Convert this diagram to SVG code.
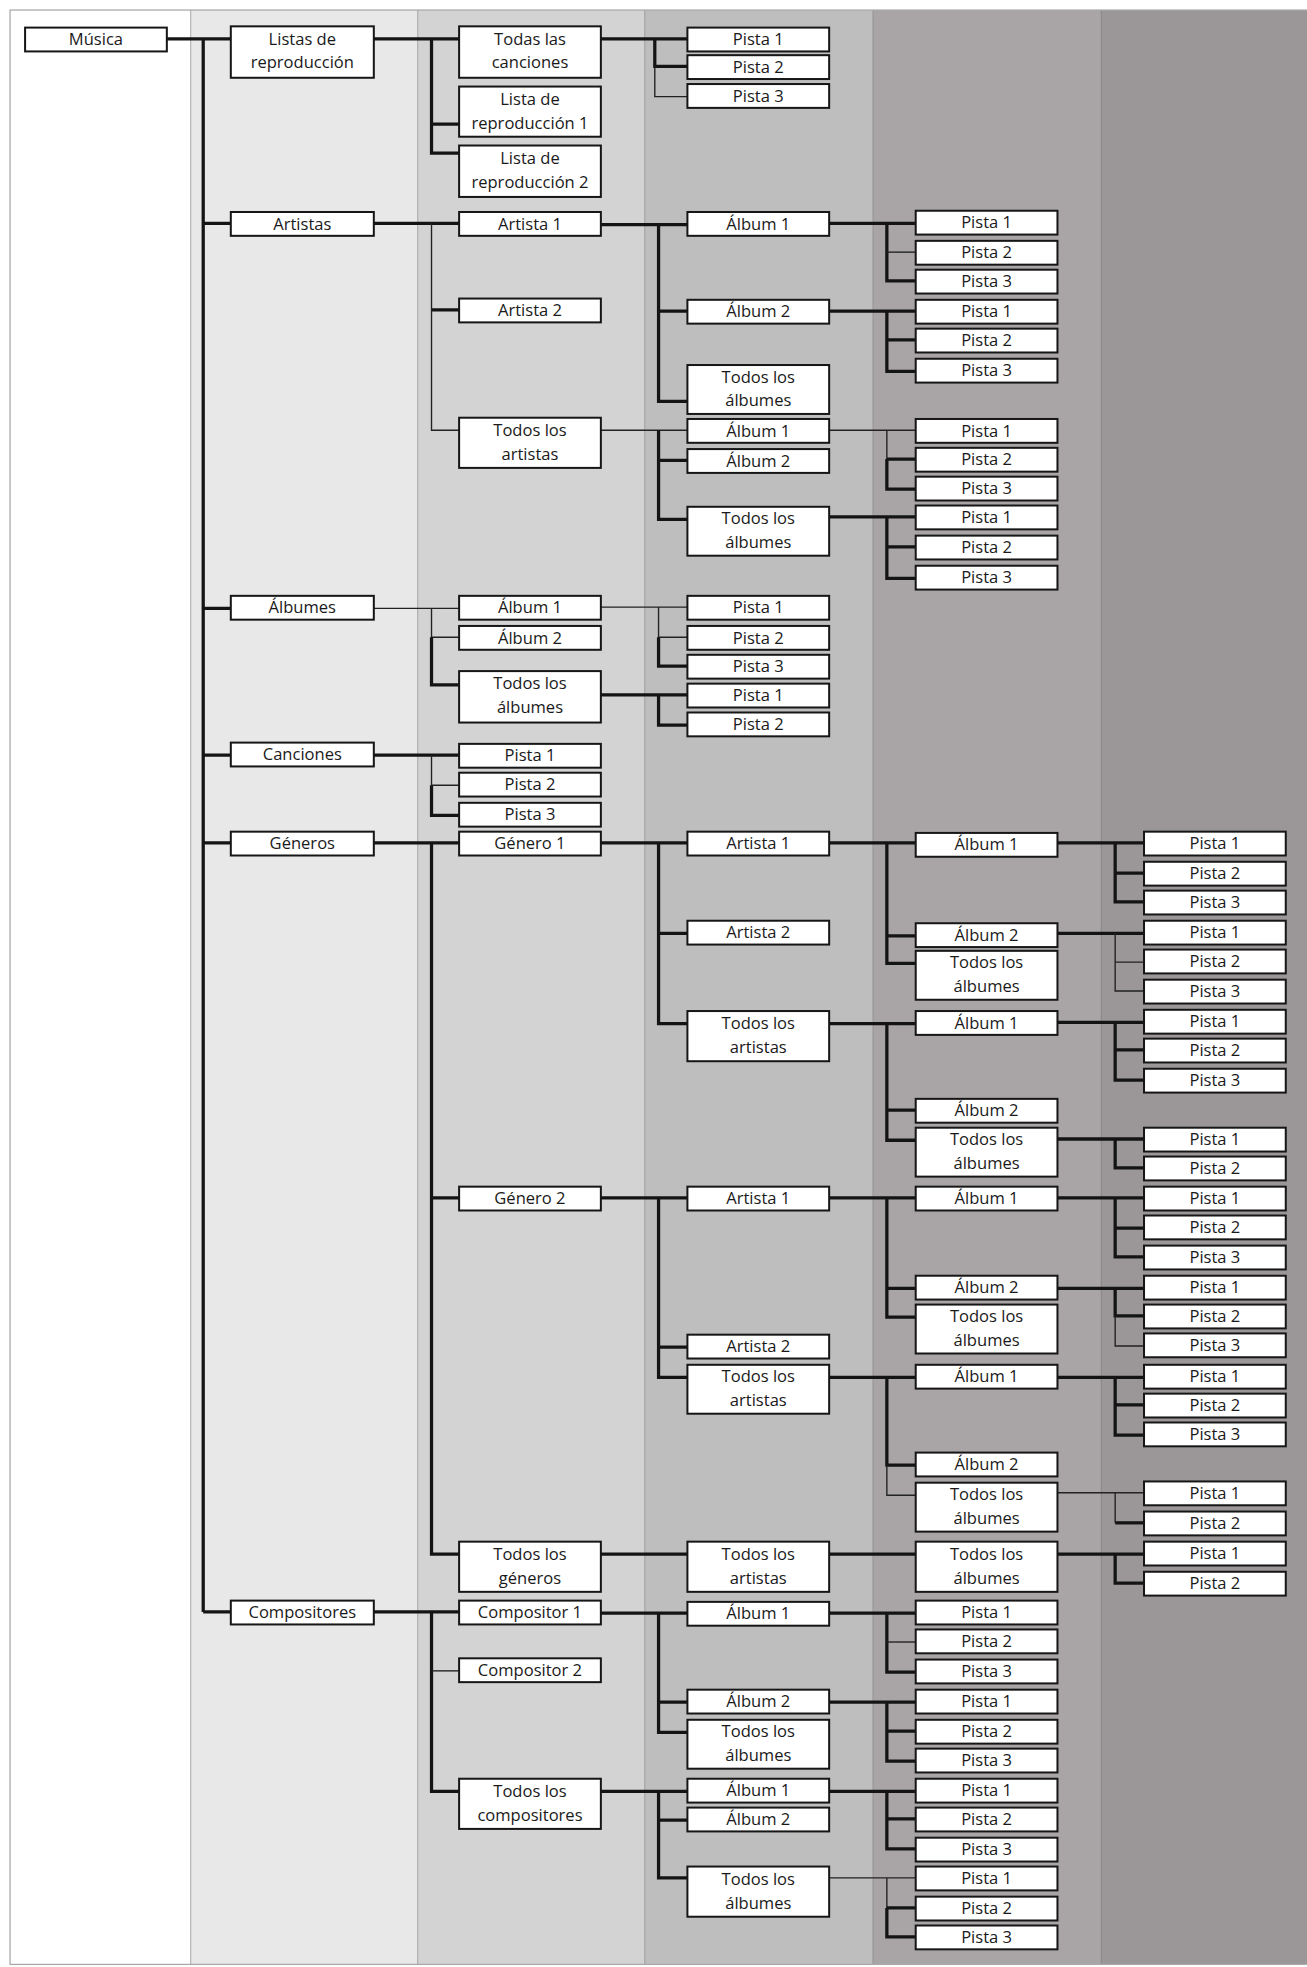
<svg xmlns="http://www.w3.org/2000/svg" width="1307" height="1967" viewBox="0 0 1307 1967">
<style>
.b{fill:#fff;stroke:#161616;stroke-width:1.6}
text{font-family:"Open Sans","DejaVu Sans",sans-serif;font-size:13.2px;text-anchor:middle;fill:#1a1a1a}
.k{stroke:#141414;stroke-width:2.6;fill:none}
.n{stroke:#222;stroke-width:1.1;fill:none}
.sep{stroke-width:1;fill:none}
</style>
<rect x="0" y="0" width="1307" height="1967" fill="#fff"/>
<g transform="scale(1.2544)">
<g id="columns">
<rect x="8" y="8" width="144" height="1558" fill="#ffffff"/>
<rect x="152" y="8" width="181" height="1558" fill="#e8e8e8"/>
<rect x="333" y="8" width="181" height="1558" fill="#d3d3d3"/>
<rect x="514" y="8" width="182" height="1558" fill="#bebebe"/>
<rect x="696" y="8" width="182" height="1558" fill="#a9a5a6"/>
<rect x="878" y="8" width="164" height="1558" fill="#9b9798"/>
<path class="sep" stroke="#b8b8b8" d="M152,8V1566"/>
<path class="sep" stroke="#b0b0b0" d="M333,8V1566"/>
<path class="sep" stroke="#a5a5a5" d="M514,8V1566"/>
<path class="sep" stroke="#979797" d="M696,8V1566"/>
<path class="sep" stroke="#8c8a8a" d="M878,8V1566"/>
<rect x="8" y="8" width="1040" height="1558" fill="none" stroke="#a8a8a8" stroke-width="1"/>
</g>
<g id="connectors">
<path class="k" d="M133,31H184M162,31V1285M162,178H184M162,485H184M162,602H184M162,672H184M162,1285H184"/>
<path class="k" d="M298,31H366M344,31V122H366M344,99H366"/>
<path class="k" d="M298,178H366M344,247H366"/>
<path class="n" d="M344,178V343H366"/>
<path class="n" d="M298,485H366M344,485V508H366"/>
<path class="k" d="M344,508V546H366"/>
<path class="k" d="M298,602H366M344,626V650H366"/>
<path class="n" d="M344,602V626H366"/>
<path class="k" d="M298,672H366M344,672V1239H366M344,955H366"/>
<path class="k" d="M298,1285H366M344,1285V1428H366"/>
<path class="n" d="M344,1332H366"/>
<path class="k" d="M479,31H548M522,31V53H548"/>
<path class="n" d="M522,53V77H548"/>
<path class="k" d="M479,179H548M525,179V320H548M525,248H548"/>
<path class="n" d="M479,343H548"/>
<path class="k" d="M525,343V414H548M525,367H548"/>
<path class="n" d="M479,484H548M525,484V508H548"/>
<path class="k" d="M525,508V531H548"/>
<path class="k" d="M479,554H548M525,554V578H548"/>
<path class="k" d="M479,672H548M525,672V816H548M525,744H548"/>
<path class="k" d="M479,955H548M525,955V1098H548M525,1074H548"/>
<path class="k" d="M479,1239H548"/>
<path class="k" d="M479,1286H548M525,1286V1381H548M525,1357H548"/>
<path class="k" d="M479,1428H548M525,1428V1497H548M525,1451H548"/>
<path class="k" d="M661,178H730M707,178V224H730"/>
<path class="n" d="M707,201H730"/>
<path class="k" d="M661,248H730M707,248V296H730M707,271H730"/>
<path class="n" d="M661,343H730M707,343V366"/>
<path class="k" d="M707,366V390H730M707,366H730"/>
<path class="k" d="M661,412H730M707,412V461H730M707,436H730"/>
<path class="k" d="M661,672H730M707,672V768H730M707,746H730"/>
<path class="k" d="M661,816H730M707,816V909H730M707,885H730"/>
<path class="k" d="M661,955H730M707,955V1050H730M707,1027H730"/>
<path class="k" d="M661,1098H730M707,1098V1168H730"/>
<path class="n" d="M707,1168V1192H730"/>
<path class="k" d="M661,1239H730"/>
<path class="k" d="M661,1286H730M707,1286V1333H730"/>
<path class="n" d="M707,1309H730"/>
<path class="k" d="M661,1357H730M707,1357V1404H730M707,1380H730"/>
<path class="k" d="M661,1428H730M707,1428V1474H730M707,1450H730"/>
<path class="n" d="M661,1497H730M707,1497V1521"/>
<path class="k" d="M707,1521V1544H730M707,1521H730"/>
<path class="k" d="M843,672H912M889,672V719H912M889,696H912"/>
<path class="k" d="M843,744H912"/>
<path class="n" d="M889,744V790H912M889,767H912"/>
<path class="k" d="M843,815H912M889,815V861H912M889,837H912"/>
<path class="k" d="M843,908H912M889,908V931H912"/>
<path class="k" d="M843,955H912M889,955V1002H912M889,979H912"/>
<path class="k" d="M843,1027H912M889,1027V1049H912"/>
<path class="n" d="M889,1049V1073H912"/>
<path class="k" d="M843,1098H912M889,1098V1144H912M889,1120H912"/>
<path class="n" d="M843,1190H912M889,1190V1214"/>
<path class="k" d="M889,1214H912"/>
<path class="k" d="M843,1239H912M889,1239V1262H912"/>
</g>

<g id="musica"><rect class="b" x="20" y="22" width="113" height="19"/><text x="76.5" y="36">Música</text></g>

<g id="listas"><rect class="b" x="184" y="21" width="114" height="41"/><text x="241" y="35.5">Listas de</text><text x="241" y="54.5">reproducción</text></g>
<g id="artistas"><rect class="b" x="184" y="169" width="114" height="19"/><text x="241" y="183">Artistas</text></g>
<g id="albumes"><rect class="b" x="184" y="475" width="114" height="19"/><text x="241" y="489">Álbumes</text></g>
<g id="canciones"><rect class="b" x="184" y="592" width="114" height="19"/><text x="241" y="606">Canciones</text></g>
<g id="generos"><rect class="b" x="184" y="663" width="114" height="19"/><text x="241" y="677">Géneros</text></g>
<g id="compositores"><rect class="b" x="184" y="1276" width="114" height="19"/><text x="241" y="1290">Compositores</text></g>

<g id="c-todas-canciones"><rect class="b" x="366" y="21" width="113" height="41"/><text x="422.5" y="35.5">Todas las</text><text x="422.5" y="54.5">canciones</text></g>
<g id="c-lista1"><rect class="b" x="366" y="69" width="113" height="40"/><text x="422.5" y="83.5">Lista de</text><text x="422.5" y="102.5">reproducción 1</text></g>
<g id="c-lista2"><rect class="b" x="366" y="116" width="113" height="41"/><text x="422.5" y="130.5">Lista de</text><text x="422.5" y="149.5">reproducción 2</text></g>
<g id="c-artista1"><rect class="b" x="366" y="169" width="113" height="19"/><text x="422.5" y="183">Artista 1</text></g>
<g id="c-artista2"><rect class="b" x="366" y="238" width="113" height="19"/><text x="422.5" y="252">Artista 2</text></g>
<g id="c-todos-artistas"><rect class="b" x="366" y="333" width="113" height="40"/><text x="422.5" y="347.5">Todos los</text><text x="422.5" y="366.5">artistas</text></g>
<g id="c-album1"><rect class="b" x="366" y="475" width="113" height="19"/><text x="422.5" y="489">Álbum 1</text></g>
<g id="c-album2"><rect class="b" x="366" y="499" width="113" height="19"/><text x="422.5" y="513">Álbum 2</text></g>
<g id="c-todos-albumes"><rect class="b" x="366" y="535" width="113" height="41"/><text x="422.5" y="549.5">Todos los</text><text x="422.5" y="568.5">álbumes</text></g>
<g id="c-pista1"><rect class="b" x="366" y="593" width="113" height="19"/><text x="422.5" y="607">Pista 1</text></g>
<g id="c-pista2"><rect class="b" x="366" y="616" width="113" height="19"/><text x="422.5" y="630">Pista 2</text></g>
<g id="c-pista3"><rect class="b" x="366" y="640" width="113" height="19"/><text x="422.5" y="654">Pista 3</text></g>
<g id="c-genero1"><rect class="b" x="366" y="663" width="113" height="19"/><text x="422.5" y="677">Género 1</text></g>
<g id="c-genero2"><rect class="b" x="366" y="946" width="113" height="19"/><text x="422.5" y="960">Género 2</text></g>
<g id="c-todos-generos"><rect class="b" x="366" y="1229" width="113" height="40"/><text x="422.5" y="1243.5">Todos los</text><text x="422.5" y="1262.5">géneros</text></g>
<g id="c-compositor1"><rect class="b" x="366" y="1276" width="113" height="19"/><text x="422.5" y="1290">Compositor 1</text></g>
<g id="c-compositor2"><rect class="b" x="366" y="1322" width="113" height="19"/><text x="422.5" y="1336">Compositor 2</text></g>
<g id="c-todos-compositores"><rect class="b" x="366" y="1418" width="113" height="40"/><text x="422.5" y="1432.5">Todos los</text><text x="422.5" y="1451.5">compositores</text></g>

<g id="d-pista1a"><rect class="b" x="548" y="22" width="113" height="19"/><text x="604.5" y="36">Pista 1</text></g>
<g id="d-pista2a"><rect class="b" x="548" y="44" width="113" height="19"/><text x="604.5" y="58">Pista 2</text></g>
<g id="d-pista3a"><rect class="b" x="548" y="67" width="113" height="19"/><text x="604.5" y="81">Pista 3</text></g>
<g id="d-album1a"><rect class="b" x="548" y="169" width="113" height="19"/><text x="604.5" y="183">Álbum 1</text></g>
<g id="d-album2a"><rect class="b" x="548" y="239" width="113" height="19"/><text x="604.5" y="253">Álbum 2</text></g>
<g id="d-todosalb-a"><rect class="b" x="548" y="291" width="113" height="39"/><text x="604.5" y="305">Todos los</text><text x="604.5" y="324">álbumes</text></g>
<g id="d-album1b"><rect class="b" x="548" y="334" width="113" height="19"/><text x="604.5" y="348">Álbum 1</text></g>
<g id="d-album2b"><rect class="b" x="548" y="358" width="113" height="19"/><text x="604.5" y="372">Álbum 2</text></g>
<g id="d-todosalb-b"><rect class="b" x="548" y="404" width="113" height="39"/><text x="604.5" y="418">Todos los</text><text x="604.5" y="437">álbumes</text></g>
<g id="d-pista1b"><rect class="b" x="548" y="475" width="113" height="19"/><text x="604.5" y="489">Pista 1</text></g>
<g id="d-pista2b"><rect class="b" x="548" y="499" width="113" height="19"/><text x="604.5" y="513">Pista 2</text></g>
<g id="d-pista3b"><rect class="b" x="548" y="522" width="113" height="19"/><text x="604.5" y="536">Pista 3</text></g>
<g id="d-pista1c"><rect class="b" x="548" y="545" width="113" height="19"/><text x="604.5" y="559">Pista 1</text></g>
<g id="d-pista2c"><rect class="b" x="548" y="568" width="113" height="19"/><text x="604.5" y="582">Pista 2</text></g>
<g id="d-artista1a"><rect class="b" x="548" y="663" width="113" height="19"/><text x="604.5" y="677">Artista 1</text></g>
<g id="d-artista2a"><rect class="b" x="548" y="734" width="113" height="19"/><text x="604.5" y="748">Artista 2</text></g>
<g id="d-todosart-a"><rect class="b" x="548" y="806" width="113" height="40"/><text x="604.5" y="820.5">Todos los</text><text x="604.5" y="839.5">artistas</text></g>
<g id="d-artista1b"><rect class="b" x="548" y="946" width="113" height="19"/><text x="604.5" y="960">Artista 1</text></g>
<g id="d-artista2b"><rect class="b" x="548" y="1064" width="113" height="19"/><text x="604.5" y="1078">Artista 2</text></g>
<g id="d-todosart-b"><rect class="b" x="548" y="1088" width="113" height="39"/><text x="604.5" y="1102">Todos los</text><text x="604.5" y="1121">artistas</text></g>
<g id="d-todosart-c"><rect class="b" x="548" y="1229" width="113" height="40"/><text x="604.5" y="1243.5">Todos los</text><text x="604.5" y="1262.5">artistas</text></g>
<g id="d-album1c"><rect class="b" x="548" y="1277" width="113" height="19"/><text x="604.5" y="1291">Álbum 1</text></g>
<g id="d-album2c"><rect class="b" x="548" y="1347" width="113" height="19"/><text x="604.5" y="1361">Álbum 2</text></g>
<g id="d-todosalb-c"><rect class="b" x="548" y="1371" width="113" height="39"/><text x="604.5" y="1385">Todos los</text><text x="604.5" y="1404">álbumes</text></g>
<g id="d-album1d"><rect class="b" x="548" y="1418" width="113" height="19"/><text x="604.5" y="1432">Álbum 1</text></g>
<g id="d-album2d"><rect class="b" x="548" y="1441" width="113" height="19"/><text x="604.5" y="1455">Álbum 2</text></g>
<g id="d-todosalb-d"><rect class="b" x="548" y="1488" width="113" height="40"/><text x="604.5" y="1502.5">Todos los</text><text x="604.5" y="1521.5">álbumes</text></g>

<g id="e-p01"><rect class="b" x="730" y="168" width="113" height="19"/><text x="786.5" y="182">Pista 1</text></g>
<g id="e-p02"><rect class="b" x="730" y="192" width="113" height="19"/><text x="786.5" y="206">Pista 2</text></g>
<g id="e-p03"><rect class="b" x="730" y="215" width="113" height="19"/><text x="786.5" y="229">Pista 3</text></g>
<g id="e-p04"><rect class="b" x="730" y="239" width="113" height="19"/><text x="786.5" y="253">Pista 1</text></g>
<g id="e-p05"><rect class="b" x="730" y="262" width="113" height="19"/><text x="786.5" y="276">Pista 2</text></g>
<g id="e-p06"><rect class="b" x="730" y="286" width="113" height="19"/><text x="786.5" y="300">Pista 3</text></g>
<g id="e-p07"><rect class="b" x="730" y="334" width="113" height="19"/><text x="786.5" y="348">Pista 1</text></g>
<g id="e-p08"><rect class="b" x="730" y="357" width="113" height="19"/><text x="786.5" y="371">Pista 2</text></g>
<g id="e-p09"><rect class="b" x="730" y="380" width="113" height="19"/><text x="786.5" y="394">Pista 3</text></g>
<g id="e-p10"><rect class="b" x="730" y="403" width="113" height="19"/><text x="786.5" y="417">Pista 1</text></g>
<g id="e-p11"><rect class="b" x="730" y="427" width="113" height="19"/><text x="786.5" y="441">Pista 2</text></g>
<g id="e-p12"><rect class="b" x="730" y="451" width="113" height="19"/><text x="786.5" y="465">Pista 3</text></g>
<g id="e-album1a"><rect class="b" x="730" y="664" width="113" height="19"/><text x="786.5" y="678">Álbum 1</text></g>
<g id="e-album2a"><rect class="b" x="730" y="736" width="113" height="19"/><text x="786.5" y="750">Álbum 2</text></g>
<g id="e-todosalb-a"><rect class="b" x="730" y="758" width="113" height="39"/><text x="786.5" y="772">Todos los</text><text x="786.5" y="791">álbumes</text></g>
<g id="e-album1b"><rect class="b" x="730" y="806" width="113" height="19"/><text x="786.5" y="820">Álbum 1</text></g>
<g id="e-album2b"><rect class="b" x="730" y="876" width="113" height="19"/><text x="786.5" y="890">Álbum 2</text></g>
<g id="e-todosalb-b"><rect class="b" x="730" y="899" width="113" height="39"/><text x="786.5" y="913">Todos los</text><text x="786.5" y="932">álbumes</text></g>
<g id="e-album1c"><rect class="b" x="730" y="946" width="113" height="19"/><text x="786.5" y="960">Álbum 1</text></g>
<g id="e-album2c"><rect class="b" x="730" y="1017" width="113" height="19"/><text x="786.5" y="1031">Álbum 2</text></g>
<g id="e-todosalb-c"><rect class="b" x="730" y="1040" width="113" height="39"/><text x="786.5" y="1054">Todos los</text><text x="786.5" y="1073">álbumes</text></g>
<g id="e-album1d"><rect class="b" x="730" y="1088" width="113" height="19"/><text x="786.5" y="1102">Álbum 1</text></g>
<g id="e-album2d"><rect class="b" x="730" y="1158" width="113" height="19"/><text x="786.5" y="1172">Álbum 2</text></g>
<g id="e-todosalb-d"><rect class="b" x="730" y="1182" width="113" height="39"/><text x="786.5" y="1196">Todos los</text><text x="786.5" y="1215">álbumes</text></g>
<g id="e-todosalb-e"><rect class="b" x="730" y="1229" width="113" height="40"/><text x="786.5" y="1243.5">Todos los</text><text x="786.5" y="1262.5">álbumes</text></g>
<g id="e-p13"><rect class="b" x="730" y="1276" width="113" height="19"/><text x="786.5" y="1290">Pista 1</text></g>
<g id="e-p14"><rect class="b" x="730" y="1299" width="113" height="19"/><text x="786.5" y="1313">Pista 2</text></g>
<g id="e-p15"><rect class="b" x="730" y="1323" width="113" height="19"/><text x="786.5" y="1337">Pista 3</text></g>
<g id="e-p16"><rect class="b" x="730" y="1347" width="113" height="19"/><text x="786.5" y="1361">Pista 1</text></g>
<g id="e-p17"><rect class="b" x="730" y="1371" width="113" height="19"/><text x="786.5" y="1385">Pista 2</text></g>
<g id="e-p18"><rect class="b" x="730" y="1394" width="113" height="19"/><text x="786.5" y="1408">Pista 3</text></g>
<g id="e-p19"><rect class="b" x="730" y="1418" width="113" height="19"/><text x="786.5" y="1432">Pista 1</text></g>
<g id="e-p20"><rect class="b" x="730" y="1441" width="113" height="19"/><text x="786.5" y="1455">Pista 2</text></g>
<g id="e-p21"><rect class="b" x="730" y="1465" width="113" height="19"/><text x="786.5" y="1479">Pista 3</text></g>
<g id="e-p22"><rect class="b" x="730" y="1488" width="113" height="19"/><text x="786.5" y="1502">Pista 1</text></g>
<g id="e-p23"><rect class="b" x="730" y="1512" width="113" height="19"/><text x="786.5" y="1526">Pista 2</text></g>
<g id="e-p24"><rect class="b" x="730" y="1535" width="113" height="19"/><text x="786.5" y="1549">Pista 3</text></g>

<g id="f-p01"><rect class="b" x="912" y="663" width="113" height="19"/><text x="968.5" y="677">Pista 1</text></g>
<g id="f-p02"><rect class="b" x="912" y="687" width="113" height="19"/><text x="968.5" y="701">Pista 2</text></g>
<g id="f-p03"><rect class="b" x="912" y="710" width="113" height="19"/><text x="968.5" y="724">Pista 3</text></g>
<g id="f-p04"><rect class="b" x="912" y="734" width="113" height="19"/><text x="968.5" y="748">Pista 1</text></g>
<g id="f-p05"><rect class="b" x="912" y="757" width="113" height="19"/><text x="968.5" y="771">Pista 2</text></g>
<g id="f-p06"><rect class="b" x="912" y="781" width="113" height="19"/><text x="968.5" y="795">Pista 3</text></g>
<g id="f-p07"><rect class="b" x="912" y="805" width="113" height="19"/><text x="968.5" y="819">Pista 1</text></g>
<g id="f-p08"><rect class="b" x="912" y="828" width="113" height="19"/><text x="968.5" y="842">Pista 2</text></g>
<g id="f-p09"><rect class="b" x="912" y="852" width="113" height="19"/><text x="968.5" y="866">Pista 3</text></g>
<g id="f-p10"><rect class="b" x="912" y="899" width="113" height="19"/><text x="968.5" y="913">Pista 1</text></g>
<g id="f-p11"><rect class="b" x="912" y="922" width="113" height="19"/><text x="968.5" y="936">Pista 2</text></g>
<g id="f-p12"><rect class="b" x="912" y="946" width="113" height="19"/><text x="968.5" y="960">Pista 1</text></g>
<g id="f-p13"><rect class="b" x="912" y="969" width="113" height="19"/><text x="968.5" y="983">Pista 2</text></g>
<g id="f-p14"><rect class="b" x="912" y="993" width="113" height="19"/><text x="968.5" y="1007">Pista 3</text></g>
<g id="f-p15"><rect class="b" x="912" y="1017" width="113" height="19"/><text x="968.5" y="1031">Pista 1</text></g>
<g id="f-p16"><rect class="b" x="912" y="1040" width="113" height="19"/><text x="968.5" y="1054">Pista 2</text></g>
<g id="f-p17"><rect class="b" x="912" y="1063" width="113" height="19"/><text x="968.5" y="1077">Pista 3</text></g>
<g id="f-p18"><rect class="b" x="912" y="1088" width="113" height="19"/><text x="968.5" y="1102">Pista 1</text></g>
<g id="f-p19"><rect class="b" x="912" y="1111" width="113" height="19"/><text x="968.5" y="1125">Pista 2</text></g>
<g id="f-p20"><rect class="b" x="912" y="1134" width="113" height="19"/><text x="968.5" y="1148">Pista 3</text></g>
<g id="f-p21"><rect class="b" x="912" y="1181" width="113" height="19"/><text x="968.5" y="1195">Pista 1</text></g>
<g id="f-p22"><rect class="b" x="912" y="1205" width="113" height="19"/><text x="968.5" y="1219">Pista 2</text></g>
<g id="f-p23"><rect class="b" x="912" y="1229" width="113" height="19"/><text x="968.5" y="1243">Pista 1</text></g>
<g id="f-p24"><rect class="b" x="912" y="1253" width="113" height="19"/><text x="968.5" y="1267">Pista 2</text></g>
</g>
</svg>
